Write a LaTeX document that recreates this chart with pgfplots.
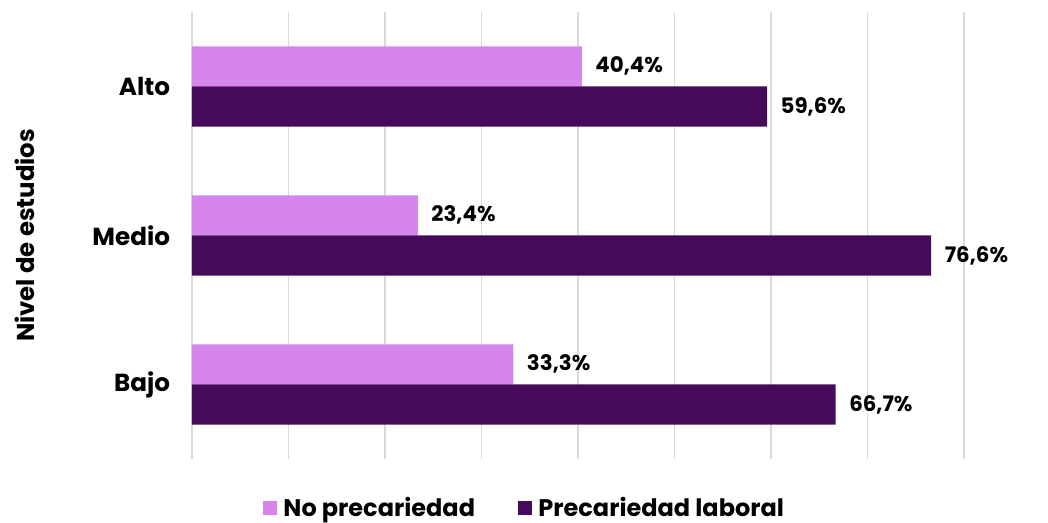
\documentclass[border=0pt]{standalone}
\usepackage{pgfplots}
\pgfplotsset{compat=1.18}
\usepackage{fontspec}
\setmainfont{Poppins}
\definecolor{lightp}{HTML}{D685EA}
\definecolor{darkp}{HTML}{460A5A}
\definecolor{gridg}{HTML}{D9D9D9}
\begin{document}
\begin{tikzpicture}
\useasboundingbox (-144pt,-48pt) rectangle (642pt,344.25pt);
\begin{axis}[
  at={(0,0)}, anchor=south west,
  scale only axis, width=579pt, height=335.25pt,
  xbar, bar width=0.27,
  xmin=0, xmax=80, ymin=-0.5, ymax=2.5,
  xtick={0,10,...,80}, xticklabels={},
  xmajorgrids, grid style={gridg, line width=0.9pt},
  axis line style={draw=none},
  tick style={draw=none},
  ytick={0,1,2}, yticklabels={Bajo,Medio,Alto},
  yticklabel style={font=\fontsize{18.5}{22}\selectfont\bfseries, inner sep=0pt, xshift=-12pt},
  ylabel={Nivel de estudios},
  ylabel style={at={(rel axis cs:-0.2163,0.5)}, anchor=center, font=\fontsize{18.3}{22}\selectfont\bfseries},
  nodes near coords, point meta=explicit symbolic,
  every node near coord/.append style={font=\fontsize{16}{19}\selectfont\bfseries, anchor=west, inner sep=0pt, xshift=10pt, black},
  legend style={at={(rel axis cs:0.431,-0.1096)}, anchor=center, draw=none, fill=none,
    legend columns=2, font=\fontsize{18}{21}\selectfont\bfseries,
    /tikz/every odd column/.append style={column sep=3pt},
    /tikz/every even column/.append style={column sep=30pt}},
  legend image code/.code={\fill (0pt,-5.25pt) rectangle (10.5pt,5.25pt);},
]
\addplot[fill=lightp, draw=none, bar shift=0.135] coordinates {
  (33.3,0) [33,3\%]
  (23.4,1) [23,4\%]
  (40.4,2) [40,4\%]
};
\addplot[fill=darkp, draw=none, bar shift=-0.135] coordinates {
  (66.7,0) [66,7\%]
  (76.6,1) [76,6\%]
  (59.6,2) [59,6\%]
};
\legend{No precariedad, Precariedad laboral}
\end{axis}
\end{tikzpicture}
\end{document}
